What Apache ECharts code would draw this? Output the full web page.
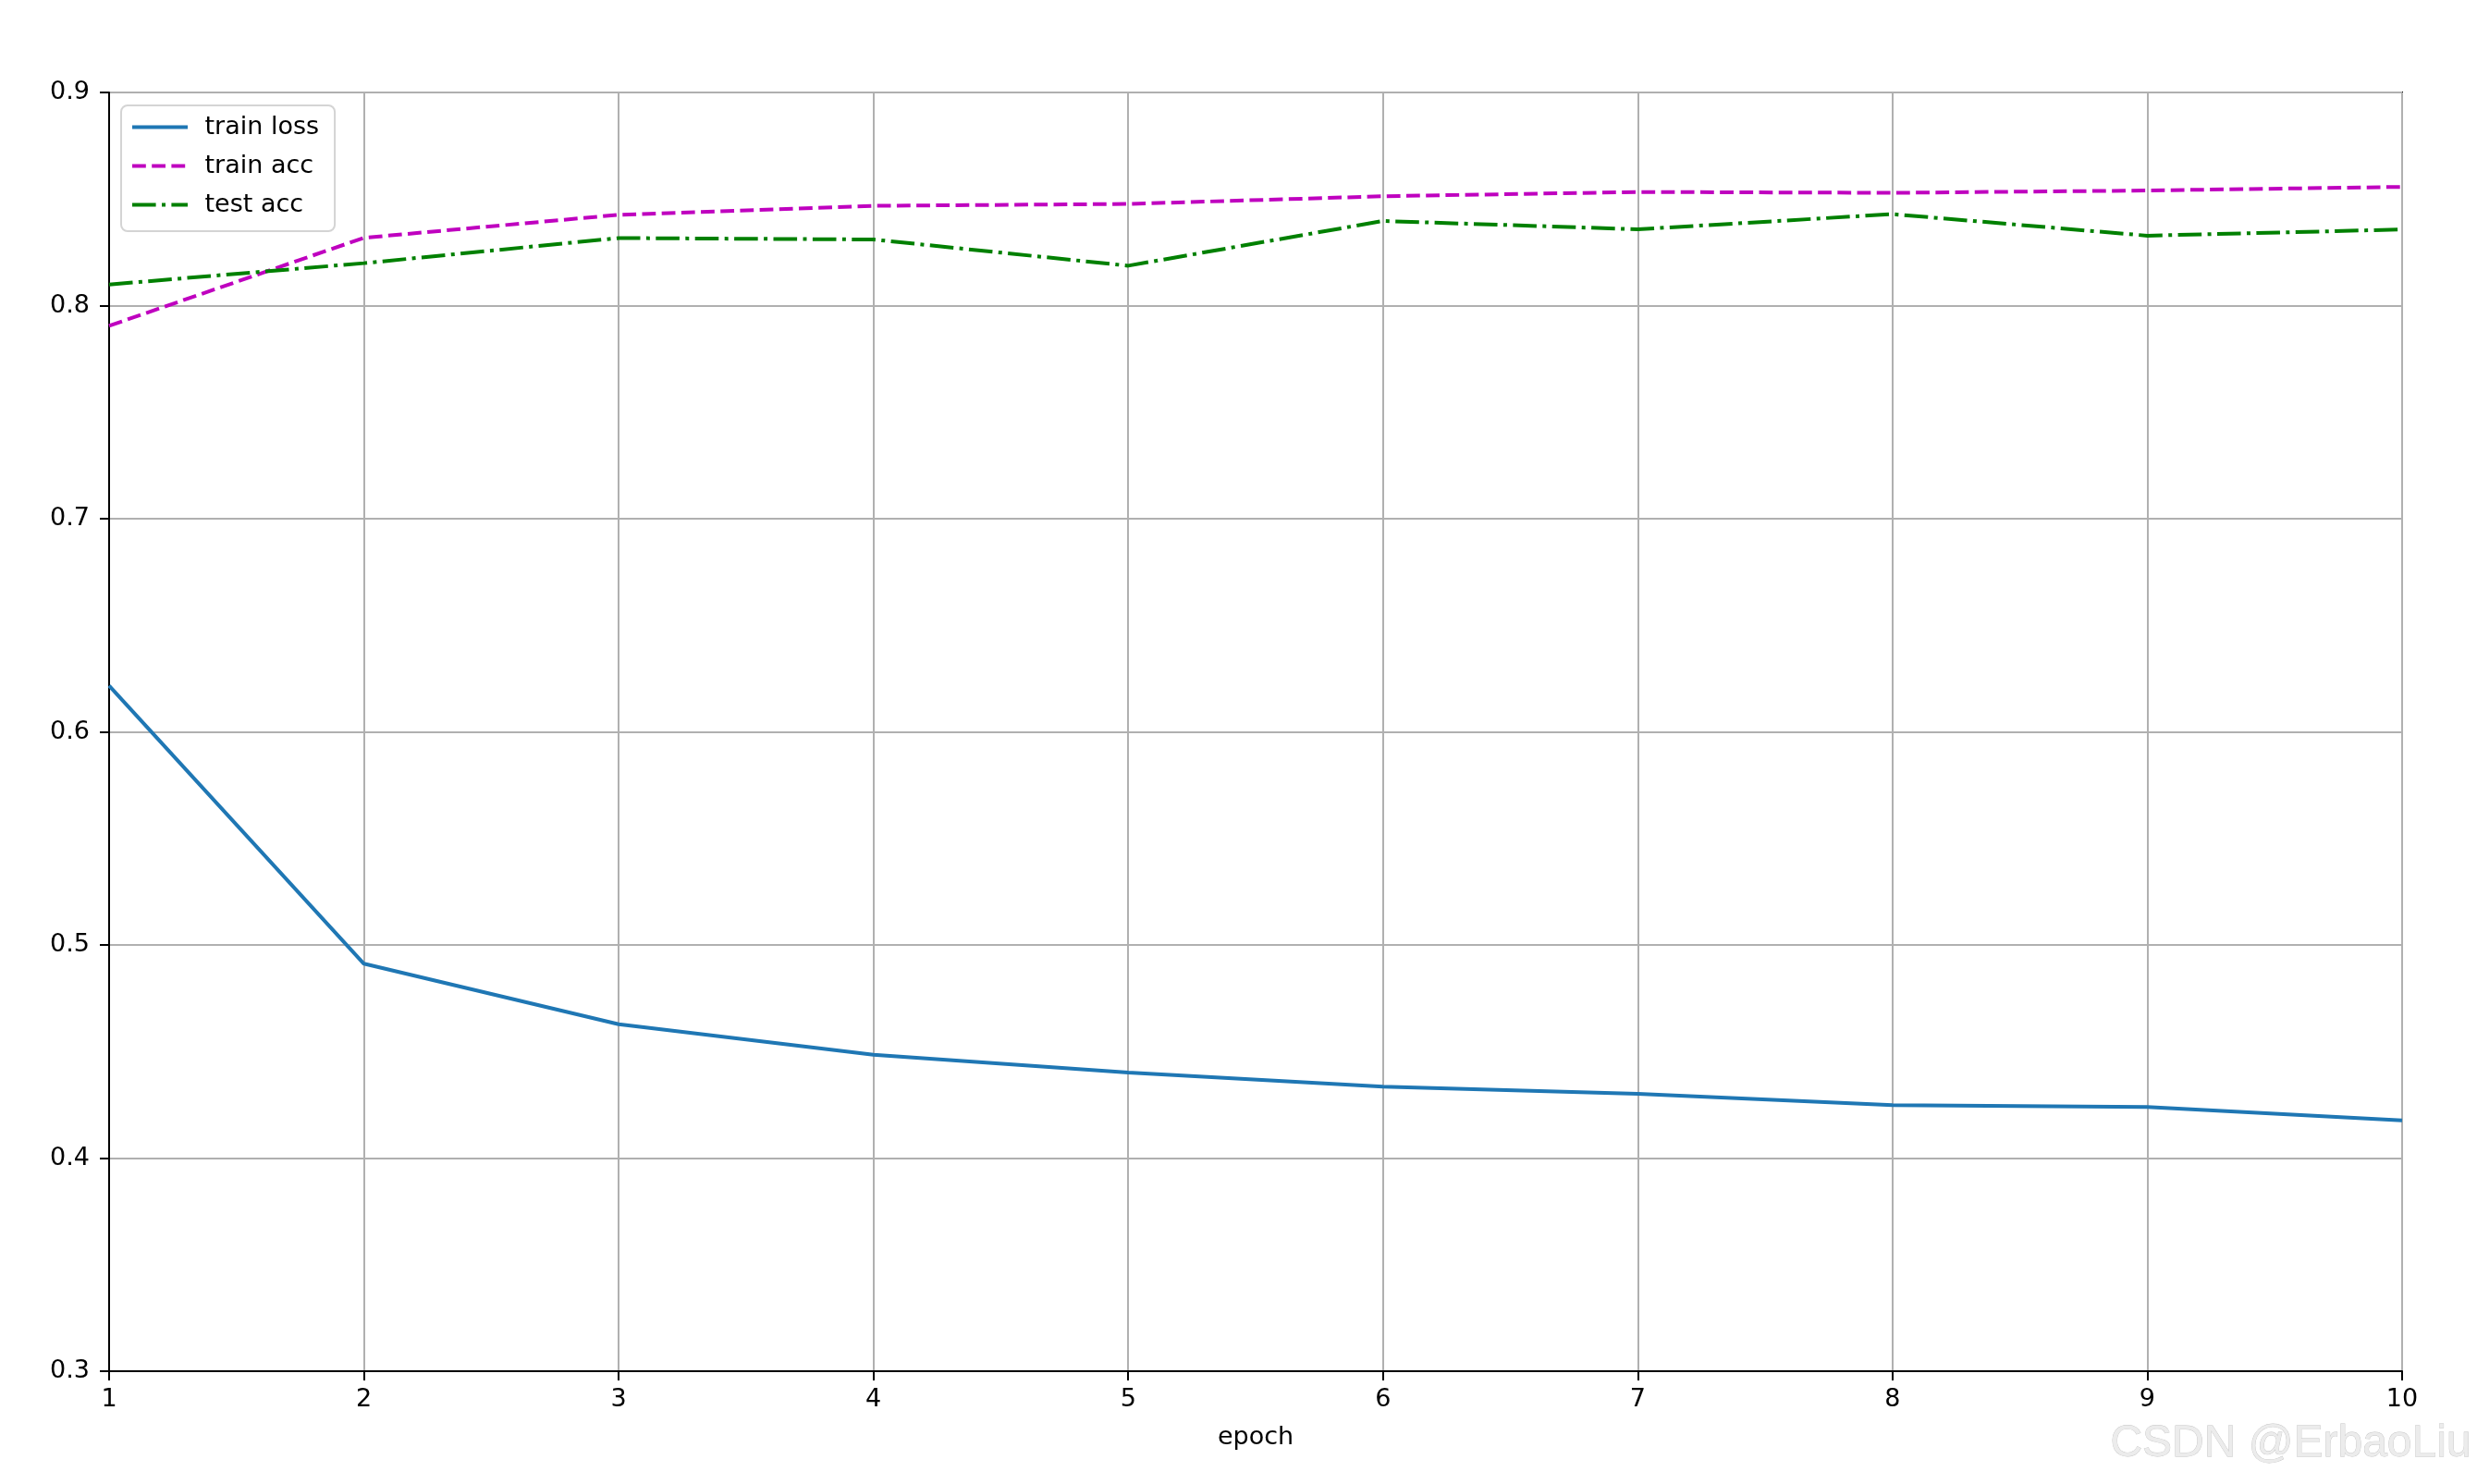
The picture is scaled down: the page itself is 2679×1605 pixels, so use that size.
<!DOCTYPE html>
<html>
<head>
<meta charset="utf-8">
<script src="https://cdn.jsdelivr.net/npm/echarts@6/dist/echarts.min.js"></script>
<style>
html,body{margin:0;padding:0;background:#fff;}
#chart{width:2679px;height:1605px;}
</style>
</head>
<body>
<div id="chart"></div>
<script>
const epochs = [1, 2, 3, 4, 5, 6, 7, 8, 9, 10];
const trainLoss = [0.6216, 0.4912, 0.4628, 0.4485, 0.4401, 0.4335, 0.4302, 0.4248, 0.4240, 0.4177];
const trainAcc = [0.7905, 0.8318, 0.8426, 0.8468, 0.8477, 0.8513, 0.8533, 0.8529, 0.8540, 0.8557];
const testAcc = [0.8099, 0.8199, 0.8317, 0.8310, 0.8187, 0.8397, 0.8358, 0.8429, 0.8328, 0.8357];
const seriesNames = ['train loss', 'train acc', 'test acc'];
const xName = 'epoch';
const watermark = 'CSDN @ErbaoLiu';

const pairs = (ys) => epochs.map((e, i) => [e, ys[i]]);
const FONT = 'DejaVu Sans';
const lw = 4;

const chart = echarts.init(document.getElementById('chart'), null, {renderer: 'canvas'});
chart.setOption({
  animation: false,
  backgroundColor: '#ffffff',
  textStyle: {fontFamily: FONT},
  grid: {
    left: 118, right: 81, top: 100, bottom: 122,
    show: true, borderColor: '#000', borderWidth: 2, backgroundColor: 'transparent'
  },
  xAxis: {
    type: 'value', min: 1, max: 10, interval: 1,
    name: xName, nameLocation: 'middle', nameGap: 58,
    nameTextStyle: {fontFamily: FONT, fontSize: 27, color: '#000'},
    axisLine: {show: true, onZero: false, lineStyle: {color: '#000', width: 2}},
    axisTick: {show: true, length: 10, lineStyle: {color: '#000', width: 2}},
    axisLabel: {fontFamily: FONT, fontSize: 27, color: '#000', margin: 17},
    splitLine: {show: true, lineStyle: {color: '#b0b0b0', width: 2}}
  },
  yAxis: {
    type: 'value', min: 0.3, max: 0.9, interval: 0.1,
    axisLine: {show: true, onZero: false, lineStyle: {color: '#000', width: 2}},
    axisTick: {show: true, length: 10, lineStyle: {color: '#000', width: 2}},
    axisLabel: {fontFamily: FONT, fontSize: 27, color: '#000', margin: 21,
      formatter: (v) => v.toFixed(1)},
    splitLine: {show: true, lineStyle: {color: '#b0b0b0', width: 2}}
  },
  legend: {
    show: true,
    orient: 'vertical', left: 131, top: 114,
    padding: [10, 17, 15, 10],
    itemWidth: 60, itemHeight: 14, itemGap: 15,
    backgroundColor: 'rgba(255,255,255,0.8)',
    borderColor: '#d4d4d4', borderWidth: 2, borderRadius: 7,
    itemStyle: {opacity: 0},
    lineStyle: {width: lw},
    textStyle: {fontFamily: FONT, fontSize: 27, color: '#000'},
    formatter: (n) => '\u2002' + n,
    data: seriesNames
  },
  series: [
    {name: seriesNames[0], type: 'line', data: pairs(trainLoss), symbol: 'none',
      itemStyle: {color: '#1f77b4'}, lineStyle: {color: '#1f77b4', width: lw, type: 'solid'}},
    {name: seriesNames[1], type: 'line', data: pairs(trainAcc), symbol: 'none',
      itemStyle: {color: '#bf00bf'}, lineStyle: {color: '#bf00bf', width: lw, type: [14.8, 6.4]}},
    {name: seriesNames[2], type: 'line', data: pairs(testAcc), symbol: 'none',
      itemStyle: {color: '#008000'}, lineStyle: {color: '#008000', width: lw, type: [25.6, 6.4, 4, 6.4]}}
  ],
  graphic: [{
    type: 'text', right: 6, top: 1537,
    style: {text: watermark, fontFamily: 'Liberation Sans', fontSize: 48,
      fill: '#ececec', stroke: '#c4c4c4', lineWidth: 0.8}
  }]
});
</script>
</body>
</html>
